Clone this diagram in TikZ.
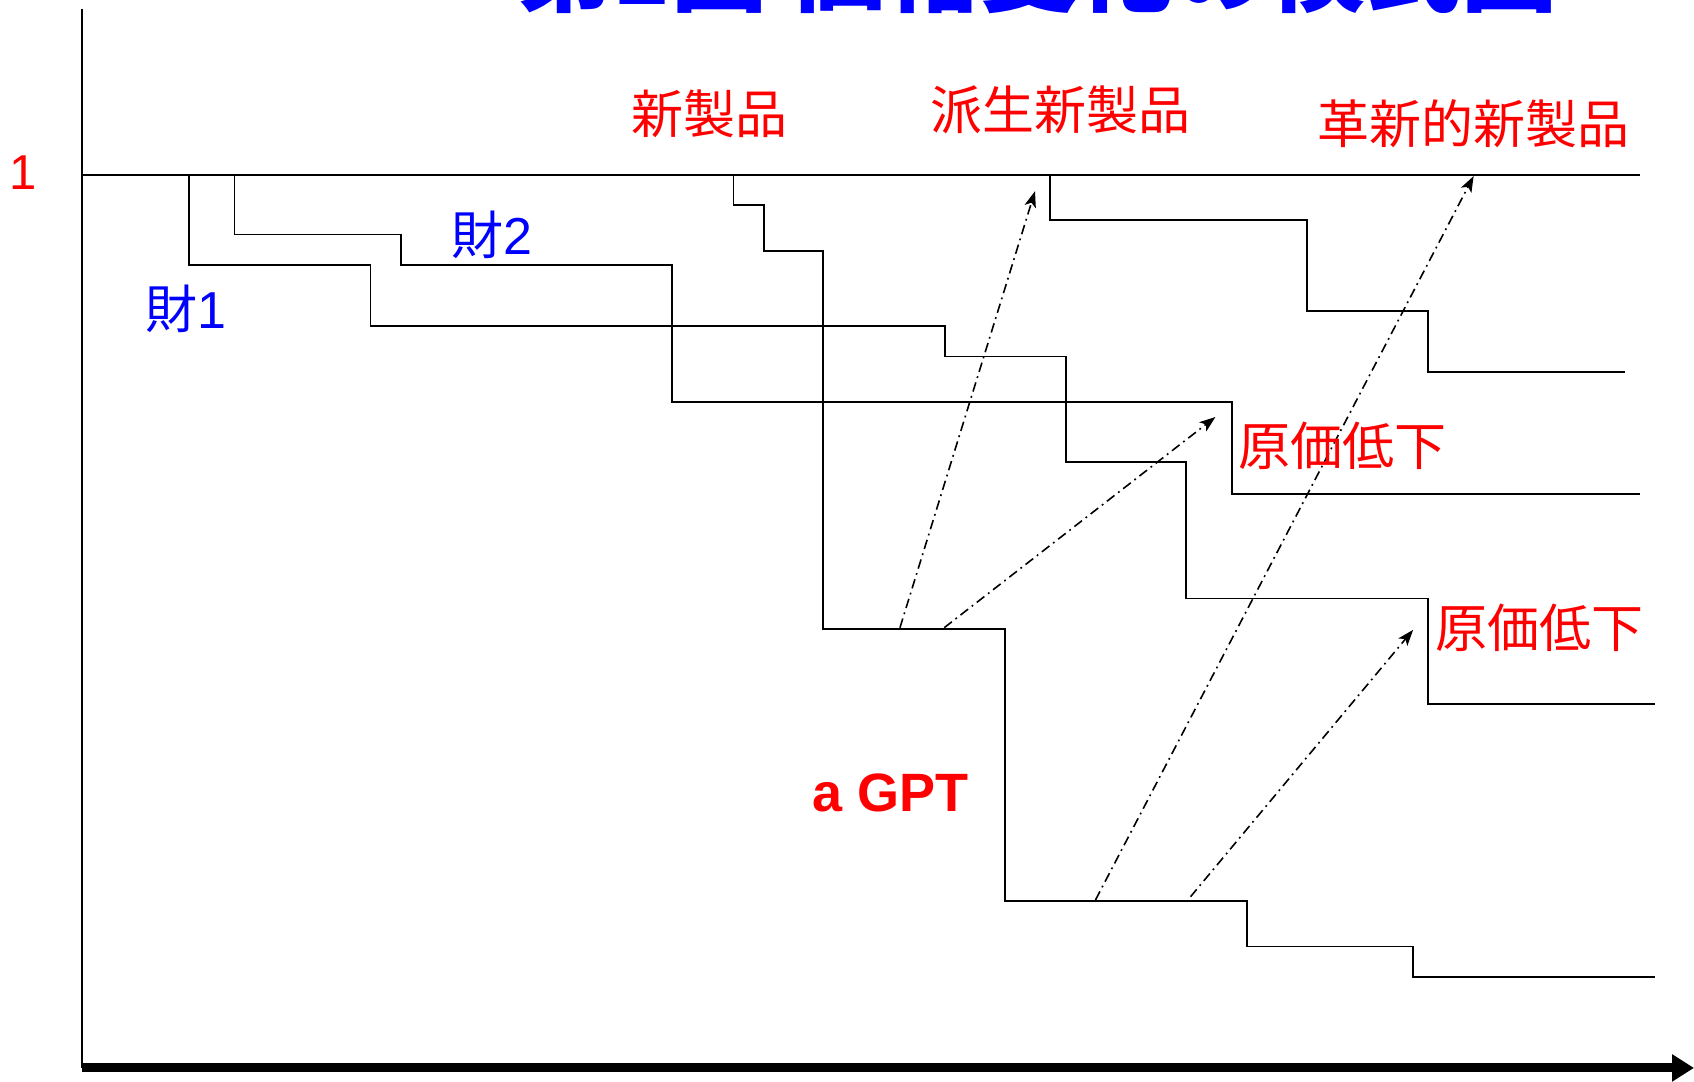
\documentclass[tikz,border=0pt]{standalone}
\usepackage{fontspec}
\setmainfont{Liberation Sans}
\newfontfamily\jp{Noto Sans CJK JP}
\usetikzlibrary{arrows.meta}
\definecolor{jred}{RGB}{255,0,0}
\definecolor{jblue}{RGB}{0,0,255}
\begin{document}
\begin{tikzpicture}[x=0.5402pt,y=-0.5402pt,
  stepline/.style={line width=0.9pt, line join=miter},
  ddarrow/.style={line width=0.8pt, dash pattern=on 4.8pt off 2.3pt on 0.9pt off 2.3pt,
    -{Stealth[length=8pt,width=5.8pt,inset=2pt]}},
  redlbl/.style={text=jred, inner sep=0pt, font=\jp\fontsize{26}{30}\selectfont},
  bluelbl/.style={text=jblue, inner sep=0pt, font=\jp\fontsize{26}{30}\selectfont},
  latlbl/.style={text=jred, inner sep=0pt, font=\fontsize{24.5}{28}\selectfont},
]
\useasboundingbox (0,0) rectangle (1568,1000.6);
\clip (0,0) rectangle (1568,1000.6);

% title (cut off at the top)
\node[anchor=south, inner sep=0pt, text=jblue, font=\jp\bfseries\fontsize{48}{52}\selectfont] (title) at (960,13.5) {第1図 価格変化の模式図};

% axes
\coordinate (ytop) at (76,8);
\coordinate (orig) at (76,988.5);
\coordinate (xend) at (1568,988.5);
\draw[line width=0.8pt] (ytop) -- (orig);
\draw[line width=4.5pt, -{Triangle[length=11pt,width=13pt]}] (orig) -- (xend);

% level 1 line
\coordinate (l1a) at (76,162);
\coordinate (l1b) at (1518,162);
\draw[line width=1.1pt] (l1a) -- (l1b);
\node[latlbl] (one) at (21,160) {1};

% step curves
\draw[stepline] (175,162) -- (175,245) -- (343,245) -- (343,302) -- (875,302) -- (875,330)
  -- (987,330) -- (987,428) -- (1098,428) -- (1098,554) -- (1322,554) -- (1322,652) -- (1532,652);
\draw[stepline] (217,162) -- (217,217) -- (371,217) -- (371,245) -- (622,245) -- (622,372)
  -- (1140,372) -- (1140,457) -- (1518,457);
\draw[stepline] (679,162) -- (679,190) -- (707,190) -- (707,232) -- (762,232) -- (762,582)
  -- (930,582) -- (930,834) -- (1154,834) -- (1154,876) -- (1308,876) -- (1308,904) -- (1532,904);
\draw[stepline] (972,162) -- (972,204) -- (1210,204) -- (1210,288) -- (1322,288) -- (1322,344) -- (1504,344);

% dash-dot arrows
\coordinate (a1s) at (833,581);  \coordinate (a1e) at (958,177);
\coordinate (a2s) at (874,581);  \coordinate (a2e) at (1125,386);
\coordinate (a3s) at (1014,833); \coordinate (a3e) at (1364,163);
\coordinate (a4s) at (1102,830); \coordinate (a4e) at (1308,583);
\draw[ddarrow] (a1s) -- (a1e);
\draw[ddarrow] (a2s) -- (a2e);
\draw[ddarrow] (a3s) -- (a3e);
\draw[ddarrow] (a4s) -- (a4e);

% labels
\node[redlbl] (np) at (657,105) {新製品};
\node[redlbl] (hp) at (982,102) {派生新製品};
\node[redlbl] (kp) at (1364,115) {革新的新製品};
\node[bluelbl] (g2) at (455,217) {財\fontspec{Liberation Sans}2};
\node[bluelbl] (g1) at (172,286) {財\fontspec{Liberation Sans}1};
\node[redlbl] (gk1) at (1243,413) {原価低下};
\node[redlbl] (gk2) at (1425,581) {原価低下};
\node[text=jred, inner sep=0pt, font=\bfseries\fontsize{27}{30}\selectfont] (gpt) at (824,734) {a GPT};
\end{tikzpicture}
\end{document}
